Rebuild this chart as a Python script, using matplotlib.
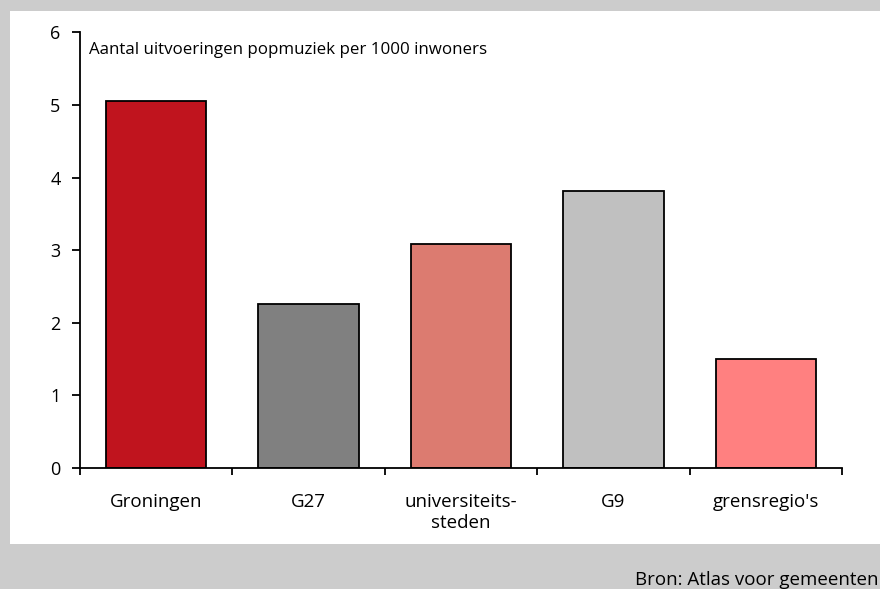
import matplotlib
matplotlib.use('Agg')
import matplotlib.pyplot as plt
from matplotlib.patches import Rectangle

plt.rcParams['font.family'] = ['Open Sans', 'DejaVu Sans']

# data
categories = ['Groningen', 'G27', 'universiteits-\nsteden', 'G9', "grensregio's"]
values = [5.06, 2.26, 3.08, 3.82, 1.50]
colors = ['#c0141e', '#808080', '#dc7b70', '#c0c0c0', '#ff8080']

fig = plt.figure(figsize=(8.8, 5.89), dpi=100)
fig.patch.set_facecolor('#cccccc')
# white panel behind the chart
fig.patches.append(Rectangle((10 / 880, 45 / 589), 870 / 880, 533 / 589,
                             transform=fig.transFigure, facecolor='white',
                             edgecolor='none', zorder=-1))

ax = fig.add_axes([80 / 880, 121 / 589, 762 / 880, 435.6 / 589])
ax.set_facecolor('none')
x = range(len(categories))
ax.bar(x, values, width=0.66, color=colors, edgecolor='black', linewidth=1.3)

ax.set_xlim(-0.5, len(categories) - 0.5)
ax.set_ylim(0, 6)
ax.set_yticks(range(7))
ax.set_xticks([i - 0.5 for i in range(len(categories) + 1)])
ax.set_xticklabels([])
ax.set_xticks(list(x), minor=True)
ax.set_xticklabels(categories, minor=True, fontsize=13.5, linespacing=1.25)
ax.tick_params(axis='x', which='minor', length=0, pad=18)
ax.tick_params(axis='x', which='major', length=5, width=1.3, direction='out')
ax.tick_params(axis='y', length=6, width=1.3, labelsize=13, pad=8)

for side in ['top', 'right']:
    ax.spines[side].set_visible(False)
for side in ['left', 'bottom']:
    ax.spines[side].set_linewidth(1.3)

ax.text(0.012, 0.978, 'Aantal uitvoeringen popmuziek per 1000 inwoners',
        transform=ax.transAxes, fontsize=12.2, va='top', ha='left')

fig.text(878 / 880, 1 - 580 / 589, 'Bron: Atlas voor gemeenten',
         fontsize=13.5, ha='right', va='center')

fig.savefig('out.png', dpi=100, facecolor=fig.get_facecolor())
